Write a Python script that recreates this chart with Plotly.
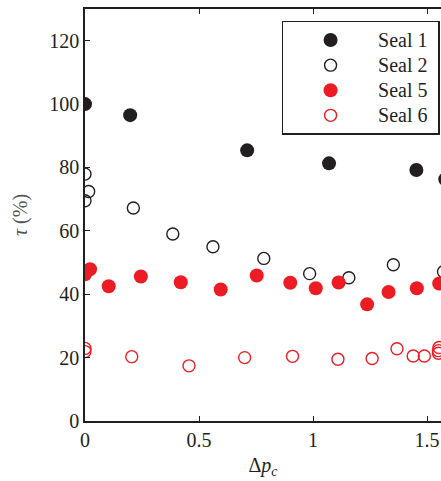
import plotly.graph_objects as go

# Seal 1 (filled black)
s1_x = [0.0, 0.198, 0.711, 1.07, 1.453, 1.58]
s1_y = [100.0, 96.5, 85.4, 81.3, 79.2, 76.3]

# Seal 2 (open black)
s2_x = [0.0, 0.016, 0.0, 0.212, 0.385, 0.561, 0.784, 0.985, 1.157, 1.352, 1.572]
s2_y = [77.9, 72.4, 69.5, 67.2, 59.0, 55.0, 51.3, 46.5, 45.2, 49.3, 47.1]

# Seal 5 (filled red)
s5_x = [0.0, 0.022, 0.104, 0.245, 0.42, 0.595, 0.753, 0.9, 1.012, 1.112, 1.237, 1.331, 1.455, 1.553]
s5_y = [46.3, 47.9, 42.5, 45.6, 43.8, 41.5, 45.9, 43.6, 41.9, 43.7, 36.8, 40.7, 41.9, 43.4]

# Seal 6 (open red)
s6_x = [0.0, 0.0, 0.205, 0.456, 0.70, 0.91, 1.109, 1.259, 1.368, 1.439, 1.488, 1.552, 1.550, 1.550]
s6_y = [22.9, 21.9, 20.3, 17.4, 20.0, 20.4, 19.5, 19.7, 22.8, 20.5, 20.5, 23.2, 22.2, 21.4]

names = ["Seal 1", "Seal 2", "Seal 5", "Seal 6"]

BLACK = "#231f20"
RED = "#ed1c24"
FONT = "Liberation Serif"


def lab(t):
    return '<span style="font-size:20px">' + t + '\u00a0</span>'


fig = go.Figure()
fig.add_trace(go.Scatter(x=s1_x, y=s1_y, mode="markers", name=lab(names[0]),
                         marker=dict(size=14, color=BLACK, line=dict(width=0))))
fig.add_trace(go.Scatter(x=s2_x, y=s2_y, mode="markers", name=lab(names[1]),
                         marker=dict(size=12, color="rgba(0,0,0,0)", line=dict(width=1.4, color=BLACK))))
fig.add_trace(go.Scatter(x=s5_x, y=s5_y, mode="markers", name=lab(names[2]),
                         marker=dict(size=14, color=RED, line=dict(width=0))))
fig.add_trace(go.Scatter(x=s6_x, y=s6_y, mode="markers", name=lab(names[3]),
                         marker=dict(size=12, color="rgba(0,0,0,0)", line=dict(width=1.4, color=RED))))

fig.update_layout(
    width=441, height=481,
    margin=dict(l=85, r=0, t=9, b=60),
    paper_bgcolor="white", plot_bgcolor="white",
    font=dict(family=FONT, size=20, color=BLACK),
    showlegend=True,
    legend=dict(x=0.996, xanchor="right", y=0.9709, yanchor="top",
                bordercolor=BLACK, borderwidth=1.5, bgcolor="white",
                font=dict(family=FONT, size=17, color=BLACK),
                itemwidth=85, tracegroupgap=0),
    xaxis=dict(range=[0, 1.561], tickvals=[0, 0.5, 1, 1.5], ticktext=["0", "0.5", "1", "1.5"],
               ticks="inside", ticklen=5, tickwidth=1, tickcolor=BLACK,
               showline=True, linecolor=BLACK, linewidth=1.5, mirror="ticks",
               showgrid=False, zeroline=False,
               title=dict(text="Δ<i>p<sub>c</sub></i>", font=dict(family=FONT, size=20, color=BLACK), standoff=8)),
    yaxis=dict(range=[0, 130], tickvals=[0, 20, 40, 60, 80, 100, 120],
               ticks="inside", ticklen=5, tickwidth=1, tickcolor=BLACK,
               showline=True, linecolor=BLACK, linewidth=1.5, mirror=False,
               showgrid=False, zeroline=False,
               title=dict(text="<i>τ</i> (%)", font=dict(family=FONT, size=20, color="#555555"), standoff=16)),
)

fig.write_html("out.html")
